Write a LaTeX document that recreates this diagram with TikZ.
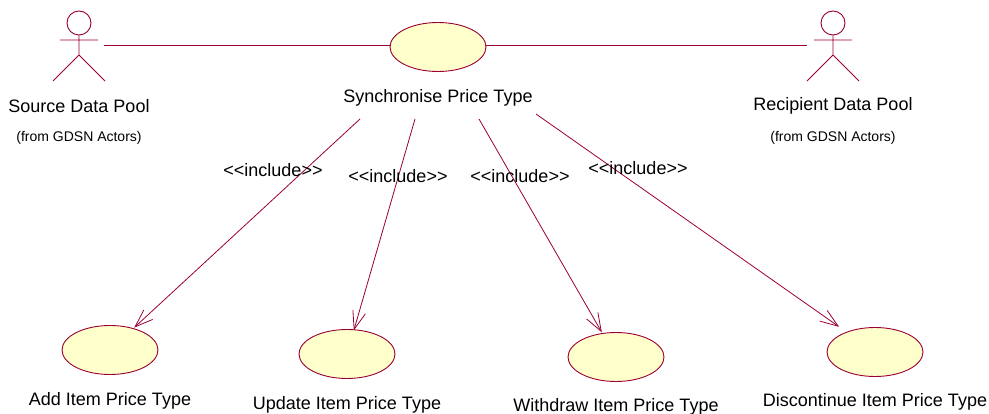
\documentclass[tikz,border=0pt]{standalone}
\usepackage{fontspec}
\setmainfont{Liberation Sans}
\usetikzlibrary{shapes.geometric,arrows.meta}
\definecolor{umlred}{HTML}{990033}
\definecolor{umlfill}{HTML}{FFFFCC}
\pgfdeclarearrow{
    name=umlvee,
    setup code={\pgfarrowssettipend{0pt}\pgfarrowssetlineend{-1pt}\pgfarrowshullpoint{-18pt}{6.5pt}\pgfarrowshullpoint{-18pt}{-6.5pt}\pgfarrowshullpoint{0pt}{0pt}},
    drawing code={\pgfpathmoveto{\pgfpoint{-18pt}{6.5pt}}\pgfpathlineto{\pgfpointorigin}\pgfpathlineto{\pgfpoint{-18pt}{-6.5pt}}\pgfusepathqstroke},
}
\begin{document}
\begin{tikzpicture}[
    x=1pt,y=-1pt,
    usecase/.style={ellipse, draw=umlred, fill=umlfill, line width=.9pt, minimum width=96pt, minimum height=49pt, inner sep=0pt},
    actorline/.style={draw=umlred, line width=.9pt},
    nametext/.style={font=\fontsize{18}{21}\selectfont, inner sep=0pt},
    fromtext/.style={font=\fontsize{14}{16}\selectfont, inner sep=0pt},
    includeline/.style={draw=umlred, line width=.8pt, -umlvee},
]
    \useasboundingbox (0,0) rectangle (989,414);

    %Nodes
    \node[usecase] (sync) at (438,47) {};
    \node[usecase] (add) at (110,350) {};
    \node[usecase] (update) at (347,354) {};
    \node[usecase] (withdraw) at (616,357) {};
    \node[usecase] (discontinue) at (875,352) {};
    \node[nametext] (syncname) at (438,98) {Synchronise Price Type};
    \node[nametext] (addname) at (110,401) {Add Item Price Type};
    \node[nametext] (updatename) at (347,405) {Update Item Price Type};
    \node[nametext] (withdrawname) at (616,407) {Withdraw Item Price Type};
    \node[nametext] (discontinuename) at (875,402) {Discontinue Item Price Type};
    \node[nametext] (sourcename) at (79,106) {Source Data Pool};
    \node[fromtext] (sourcefrom) at (79,138) {(from GDSN Actors)};
    \node[nametext] (recipientname) at (833,106) {Recipient Data Pool};
    \node[fromtext] (recipientfrom) at (833,138) {(from GDSN Actors)};

    %Actors
    \node[circle, actorline, fill=white, minimum size=24pt, inner sep=0pt] (sourcehead) at (79,23) {};
    \draw[actorline] (sourcehead) -- (79,55) -- (53,81) (79,55) -- (105,81) (60,40) -- (98,40);
    \node[circle, actorline, fill=white, minimum size=24pt, inner sep=0pt] (recipienthead) at (833,23) {};
    \draw[actorline] (recipienthead) -- (833,55) -- (807,81) (833,55) -- (859,81) (814,40) -- (852,40);

    %Lines
    \coordinate (sourceend) at (104,45.5);
    \coordinate (recipientend) at (807,45.5);
    \coordinate (addstart) at (360,119);
    \coordinate (updatestart) at (415,119);
    \coordinate (withdrawstart) at (479,119);
    \coordinate (discontinuestart) at (536,114);
    \draw[actorline] (sourceend) -- (sync.west |- sourceend);
    \draw[actorline] (sync.east |- recipientend) -- (recipientend);
    \draw[includeline,shorten >=2pt] (addstart) -- (add);
    \draw[includeline] (updatestart) -- (update);
    \draw[includeline,shorten >=2pt] (withdrawstart) -- (withdraw);
    \draw[includeline,shorten >=10pt] (discontinuestart) -- (discontinue);
    \node[nametext] (addinclude) at (273,170) {<{}<include>{}>};
    \node[nametext] (updateinclude) at (398,176) {<{}<include>{}>};
    \node[nametext] (withdrawinclude) at (520,176) {<{}<include>{}>};
    \node[nametext] (discontinueinclude) at (638,168) {<{}<include>{}>};
\end{tikzpicture}
\end{document}
